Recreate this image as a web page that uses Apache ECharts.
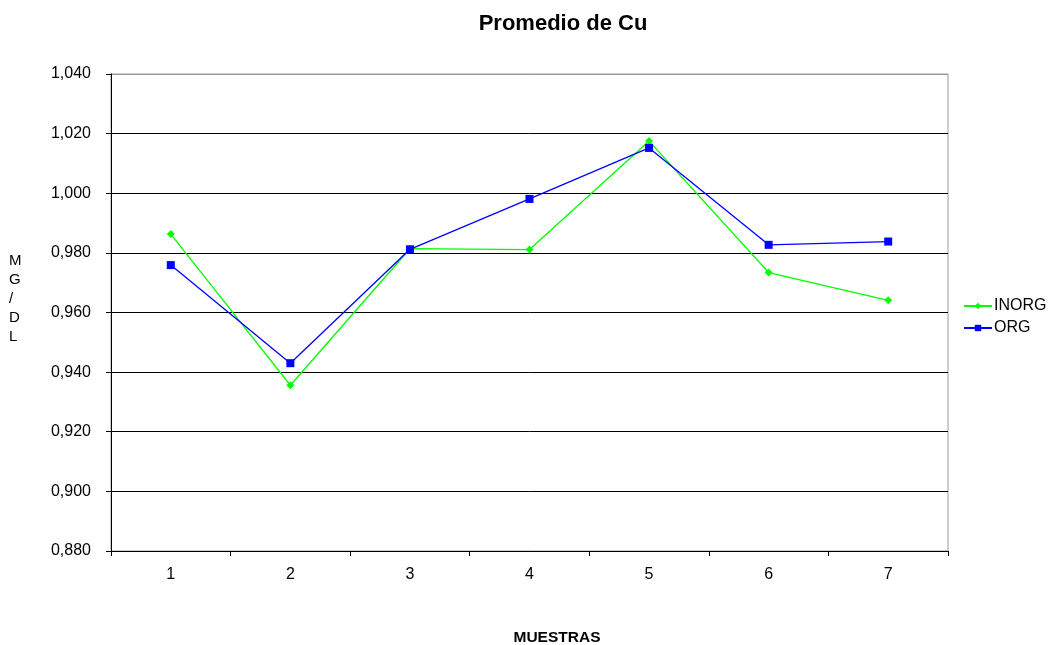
<!DOCTYPE html>
<html>
<head>
<meta charset="utf-8">
<script src="https://cdn.jsdelivr.net/npm/echarts@6/dist/echarts.min.js"></script>
<style>
  html, body { margin: 0; padding: 0; background: #fff; }
  #chart { width: 1052px; height: 645px; }
</style>
</head>
<body>
<div id="chart"></div>
<script>
// Copper averages per sample
const muestras = ['1', '2', '3', '4', '5', '6', '7'];
const inorg = [0.9863, 0.9356, 0.9814, 0.9811, 1.0175, 0.9734, 0.9641];
const org = [0.9759, 0.9430, 0.9812, 0.9981, 1.0152, 0.9827, 0.9838];
const yTicks = { min: 0.88, max: 1.04, step: 0.02 };

const font = 'Liberation Sans, Arial, sans-serif';
const chart = echarts.init(document.getElementById('chart'));

chart.setOption({
  animation: false,
  backgroundColor: '#fff',
  title: {
    text: 'Promedio de Cu',
    left: 558,
    top: 8,
    textAlign: 'center',
    textStyle: { fontFamily: font, fontSize: 22, fontWeight: 'bold', color: '#000' }
  },
  grid: {
    left: 111, right: 104, top: 74, bottom: 94,
    outerBoundsMode: 'none',
    containLabel: false,
    show: true, borderColor: '#9a9a9a', borderWidth: 1, backgroundColor: '#fff'
  },
  legend: {
    orient: 'vertical',
    left: 958,
    top: 293,
    itemWidth: 28,
    itemHeight: 8,
    itemGap: 6,
    textStyle: { fontFamily: font, fontSize: 16, color: '#000', padding: [0, 0, 0, -3] },
    data: ['INORG', 'ORG']
  },
  xAxis: {
    type: 'category',
    data: muestras,
    boundaryGap: true,
    axisLine: { lineStyle: { color: '#000', width: 1 } },
    axisTick: { show: true, length: 5, lineStyle: { color: '#000' } },
    axisLabel: { fontFamily: font, fontSize: 16, color: '#000', margin: 16 },
    splitLine: { show: false }
  },
  yAxis: {
    type: 'value',
    min: yTicks.min,
    max: yTicks.max,
    interval: yTicks.step,
    axisLine: { show: true, lineStyle: { color: '#000', width: 1 } },
    axisTick: { show: true, length: 5, lineStyle: { color: '#000' } },
    axisLabel: {
      fontFamily: font, fontSize: 16, color: '#000', margin: 20,
      formatter: v => v.toFixed(3).replace('.', ',')
    },
    splitLine: {
      show: true,
      lineStyle: {
        color: ['#000', '#000', '#000', '#000', '#000', '#000', '#000', '#000', '#9a9a9a'],
        width: 1
      }
    }
  },
  graphic: [
    {
      // vertical y-axis caption, one letter per line
      type: 'text',
      left: 9,
      top: 251,
      style: {
        text: 'M\nG\n/\nD\nL',
        fontFamily: font,
        fontSize: 15,
        lineHeight: 19,
        fill: '#000',
        align: 'center'
      }
    },
    {
      // x-axis caption
      type: 'text',
      x: 557,
      y: 638,
      style: {
        text: 'MUESTRAS',
        fontFamily: font,
        fontSize: 15.5,
        fontWeight: 'bold',
        fill: '#000',
        align: 'center',
        verticalAlign: 'middle'
      }
    }
  ],
  series: [
    {
      name: 'INORG',
      type: 'line',
      data: inorg,
      symbol: 'diamond',
      symbolSize: 8,
      showAllSymbol: true,
      itemStyle: { color: '#00ff00' },
      lineStyle: { color: '#00ff00', width: 1.3 },
      z: 3
    },
    {
      name: 'ORG',
      type: 'line',
      data: org,
      symbol: 'rect',
      symbolSize: 8,
      showAllSymbol: true,
      itemStyle: { color: '#0000ff' },
      lineStyle: { color: '#0000ff', width: 1.3 },
      z: 4
    }
  ]
});
</script>
</body>
</html>
